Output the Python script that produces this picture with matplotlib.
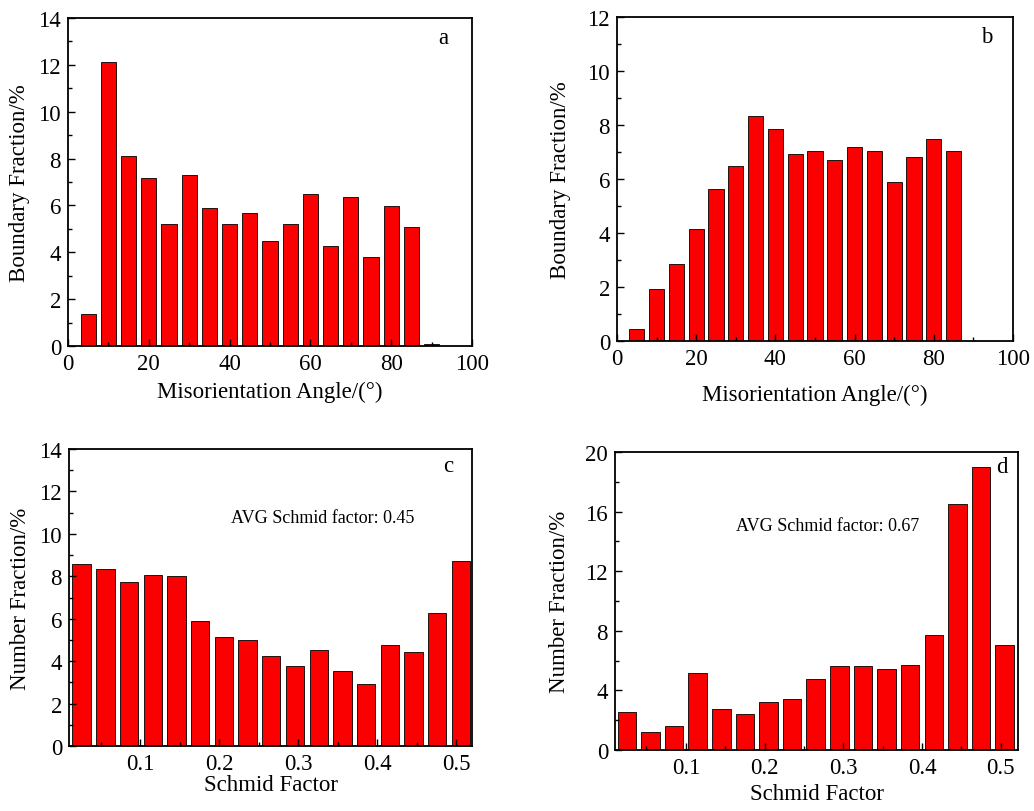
import matplotlib
matplotlib.use("Agg")
import matplotlib.pyplot as plt
from matplotlib.ticker import MultipleLocator
import numpy as np

plt.rcParams['font.family'] = ['Liberation Serif', 'DejaVu Serif']

# ---- data ----
angle_a = [5, 10, 15, 20, 25, 30, 35, 40, 45, 50, 55, 60, 65, 70, 75, 80, 85, 90]
frac_a = [1.38, 12.14, 8.12, 7.17, 5.19, 7.28, 5.88, 5.19, 5.67, 4.50, 5.19,
          6.47, 4.26, 6.35, 3.82, 5.98, 5.07, 0.10]

angle_b = [5, 10, 15, 20, 25, 30, 35, 40, 45, 50, 55, 60, 65, 70, 75, 80, 85]
frac_b = [0.46, 1.94, 2.87, 4.16, 5.64, 6.47, 8.33, 7.86, 6.93, 7.04, 6.71,
          7.17, 7.04, 5.89, 6.82, 7.50, 7.04]

sf_c = [0.026, 0.056, 0.086, 0.116, 0.146, 0.176, 0.206, 0.236, 0.266, 0.296,
        0.326, 0.356, 0.386, 0.416, 0.446, 0.476, 0.506]
num_c = [8.56, 8.32, 7.71, 8.04, 8.02, 5.89, 5.12, 5.01, 4.25, 3.77, 4.51,
         3.53, 2.90, 4.74, 4.41, 6.28, 8.71]

sf_d = [0.025, 0.055, 0.085, 0.115, 0.145, 0.175, 0.205, 0.235, 0.265, 0.295,
        0.325, 0.355, 0.385, 0.415, 0.445, 0.475, 0.505]
num_d = [2.53, 1.19, 1.63, 5.15, 2.78, 2.42, 3.23, 3.45, 4.79, 5.64, 5.64,
         5.44, 5.69, 7.70, 16.51, 18.99, 7.03]

W, H = 1034, 812
fig = plt.figure(figsize=(W / 100, H / 100), dpi=100)


def ax_px(l, t, r, b):
    return fig.add_axes([l / W, (H - b) / H, (r - l) / W, (b - t) / H])


FS = 16.5
RED = '#fa0000'


def style(ax):
    for s in ax.spines.values():
        s.set_linewidth(1.3)
        s.set_color('black')
    ax.tick_params(which='both', direction='in', top=False, right=False,
                   labelsize=FS, width=1.0)
    ax.tick_params(which='major', length=5, pad=5)
    ax.tick_params(which='minor', length=3)


# a
axa = ax_px(68, 19, 472, 347)
axa.bar(angle_a, frac_a, width=3.8, color=RED, edgecolor='black', linewidth=0.6)
axa.set_xlim(0, 100)
axa.set_ylim(0, 14)
axa.xaxis.set_major_locator(MultipleLocator(20))
axa.xaxis.set_minor_locator(MultipleLocator(10))
axa.yaxis.set_major_locator(MultipleLocator(2))
axa.yaxis.set_minor_locator(MultipleLocator(1))
style(axa)
axa.set_xlabel('Misorientation Angle/(°)', fontsize=FS, labelpad=5)
axa.set_ylabel('Boundary Fraction/%', fontsize=FS, labelpad=6)
axa.text(0.93, 0.94, 'a', transform=axa.transAxes, fontsize=FS, ha='center', va='center')

# b
axb = ax_px(617, 18, 1013, 342)
axb.bar(angle_b, frac_b, width=3.8, color=RED, edgecolor='black', linewidth=0.6)
axb.set_xlim(0, 100)
axb.set_ylim(0, 12)
axb.xaxis.set_major_locator(MultipleLocator(20))
axb.xaxis.set_minor_locator(MultipleLocator(10))
axb.yaxis.set_major_locator(MultipleLocator(2))
axb.yaxis.set_minor_locator(MultipleLocator(1))
style(axb)
axb.set_xlabel('Misorientation Angle/(°)', fontsize=FS, labelpad=11)
axb.set_ylabel('Boundary Fraction/%', fontsize=FS, labelpad=12)
axb.text(0.934, 0.94, 'b', transform=axb.transAxes, fontsize=FS, ha='center', va='center')

# c
axc = ax_px(69, 450, 472, 747)
axc.bar(sf_c, num_c, width=0.0232, color=RED, edgecolor='black', linewidth=0.6)
axc.set_xlim(0.01, 0.52)
axc.set_ylim(0, 14)
axc.xaxis.set_major_locator(MultipleLocator(0.1))
axc.xaxis.set_minor_locator(MultipleLocator(0.05))
axc.yaxis.set_major_locator(MultipleLocator(2))
axc.yaxis.set_minor_locator(MultipleLocator(1))
style(axc)
axc.set_xticks([0.1, 0.2, 0.3, 0.4, 0.5])
axc.set_xticklabels(['0.1', '0.2', '0.3', '0.4', '0.5'])
axc.set_xlabel('Schmid Factor', fontsize=FS, labelpad=0)
axc.set_ylabel('Number Fraction/%', fontsize=FS, labelpad=6)
axc.text(0.94, 0.943, 'c', transform=axc.transAxes, fontsize=FS, ha='center', va='center')
axc.text(0.402, 0.771, 'AVG Schmid factor: 0.45', transform=axc.transAxes,
         fontsize=13, ha='left', va='center')

# d
axd = ax_px(615, 453, 1018, 751)
axd.bar(sf_d, num_d, width=0.0235, color=RED, edgecolor='black', linewidth=0.6)
axd.set_xlim(0.01, 0.522)
axd.set_ylim(0, 20)
axd.xaxis.set_major_locator(MultipleLocator(0.1))
axd.xaxis.set_minor_locator(MultipleLocator(0.05))
axd.yaxis.set_major_locator(MultipleLocator(4))
axd.yaxis.set_minor_locator(MultipleLocator(2))
style(axd)
axd.set_xticks([0.1, 0.2, 0.3, 0.4, 0.5])
axd.set_xticklabels(['0.1', '0.2', '0.3', '0.4', '0.5'])
axd.set_xlabel('Schmid Factor', fontsize=FS, labelpad=4)
axd.set_ylabel('Number Fraction/%', fontsize=FS, labelpad=11)
axd.text(0.96, 0.95, 'd', transform=axd.transAxes, fontsize=FS, ha='center', va='center')
axd.text(0.30, 0.755, 'AVG Schmid factor: 0.67', transform=axd.transAxes,
         fontsize=13, ha='left', va='center')

fig.savefig('out.png', dpi=100)
